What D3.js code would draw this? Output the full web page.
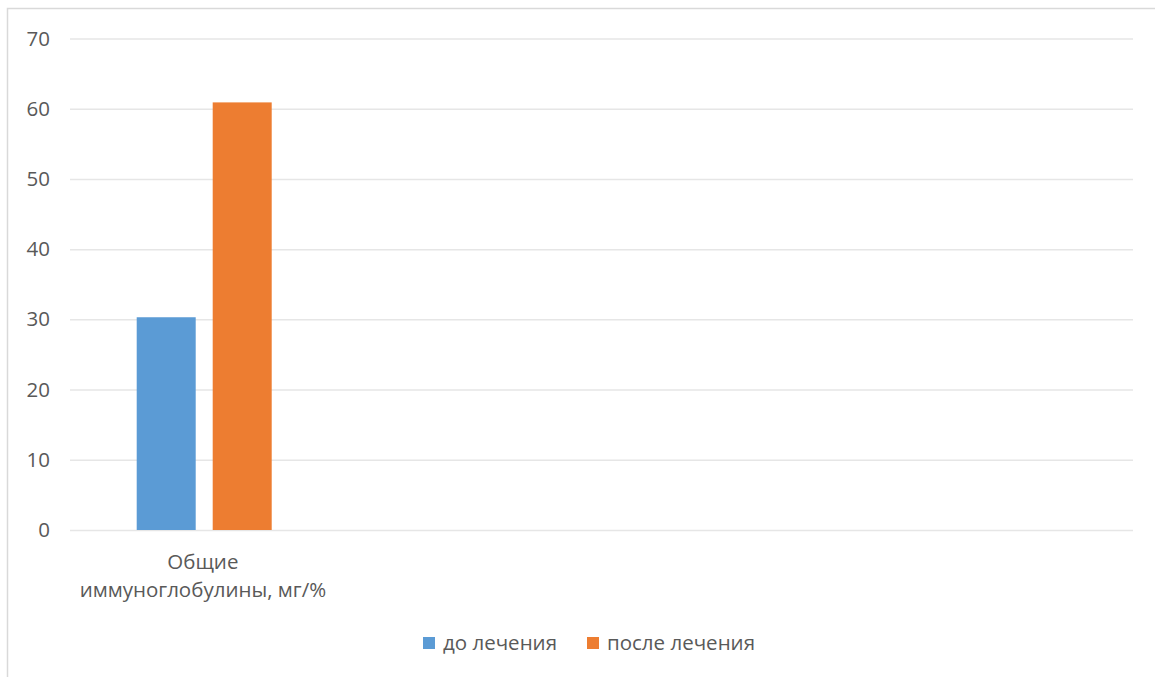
<!DOCTYPE html>
<html><head><meta charset="utf-8">
<script src="https://cdn.jsdelivr.net/npm/d3@7"></script>
<style>
html,body{margin:0;padding:0;background:#fff;}
svg{display:block;font-family:"Open Sans",sans-serif;}
</style></head>
<body>
<svg id="c" width="1155" height="677"></svg>
<script>
const categories = ["Общие иммуноглобулины, мг/%", "", "", ""];
const categoryLines = [["Общие", "иммуноглобулины, мг/%"], [], [], []];
const seriesNames = ["до лечения", "после лечения"];
const seriesColors = ["#5b9bd5", "#ed7d31"];
const beforeValues = [30.3, null, null, null];
const afterValues = [60.9, null, null, null];
const yTicks = [0, 10, 20, 30, 40, 50, 60, 70];

(function () {
const svg = d3.select("#c");
const pLeft = 70, pRight = 1133, pTop = 38.5, pBottom = 530;
const fs = "20.5px";

// chart frame (only top and left edges visible)
svg.append("rect").attr("x", 7.5).attr("y", 8.5).attr("width", 1200).attr("height", 700)
  .attr("fill", "none").attr("stroke", "#d9d9d9").attr("stroke-width", 1.5);

const y = d3.scaleLinear().domain([0, 70]).range([pBottom, pTop]);
const x0 = d3.scaleBand().domain(d3.range(categories.length)).range([pLeft, pRight]).padding(0);
const bw = x0.bandwidth();
const x1 = d3.scaleBand().domain(seriesNames).range([bw * 0.251, bw * 0.759]).paddingInner(0.2237).paddingOuter(0);

// gridlines
const yAxis = d3.axisLeft(y).tickValues(yTicks).tickSize(-(pRight - pLeft)).tickPadding(20);
const gy = svg.append("g").attr("transform", `translate(${pLeft},0)`).call(yAxis);
gy.select(".domain").remove();
gy.selectAll(".tick line").attr("stroke", "#e6e6e6").attr("stroke-width", 1.5);
gy.selectAll(".tick text").attr("fill", "#595959").style("font-size", fs).style("font-family", "Open Sans");

// bars
const rows = categories.map((c, i) => ({i, vals: [beforeValues[i], afterValues[i]]}));
const g = svg.append("g");
rows.forEach(r => {
  r.vals.forEach((v, k) => {
    if (v == null) return;
    g.append("rect")
      .attr("x", x0(r.i) + x1(seriesNames[k]))
      .attr("y", y(v))
      .attr("width", x1.bandwidth())
      .attr("height", y(0) - y(v))
      .attr("fill", seriesColors[k]);
  });
});

// category labels
const gx = svg.append("g");
categoryLines.forEach((lines, i) => {
  lines.forEach((t, j) => {
    gx.append("text").attr("x", x0(i) + bw / 2).attr("y", 569 + j * 28)
      .attr("text-anchor", "middle").attr("fill", "#595959")
      .style("font-size", fs).text(t);
  });
});

// legend
const lg = svg.append("g");
const legendX = [423, 587];
seriesNames.forEach((s, k) => {
  lg.append("rect").attr("x", legendX[k]).attr("y", 637).attr("width", 12).attr("height", 12).attr("fill", seriesColors[k]);
  lg.append("text").attr("x", legendX[k] + 20).attr("y", 650).attr("fill", "#595959")
    .style("font-size", fs).text(s);
});
})();
</script>
</body></html>
